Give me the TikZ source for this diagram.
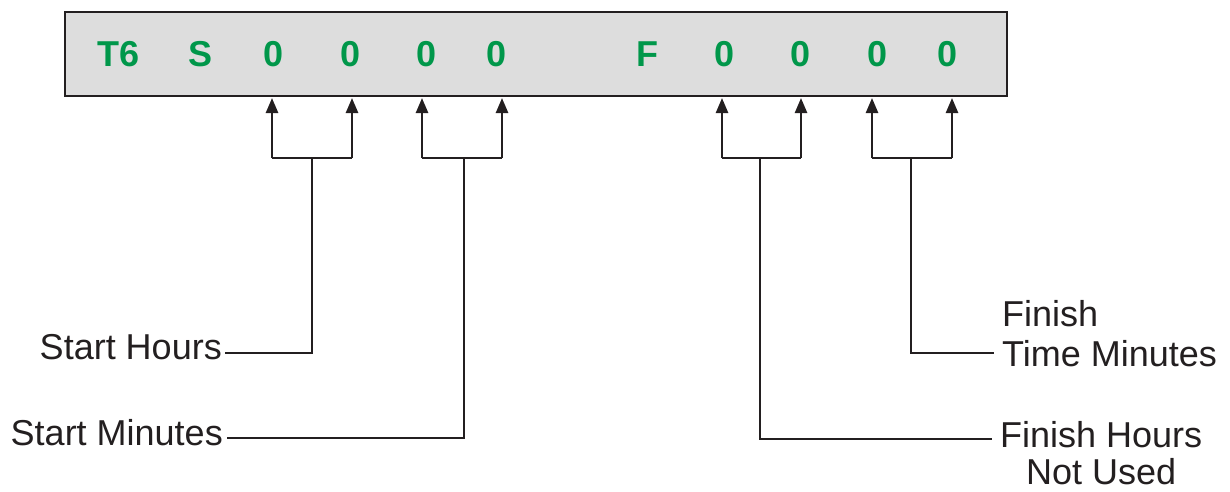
\documentclass[tikz,border=0pt]{standalone}
\usepackage{fontspec}
\setmainfont{Liberation Sans}
\usetikzlibrary{arrows.meta}
\definecolor{dgreen}{HTML}{00974A}
\definecolor{ink}{HTML}{231F20}
\definecolor{boxgray}{HTML}{DDDDDD}
\begin{document}
\begin{tikzpicture}[x=1pt,y=-1pt,
  code/.style={text=dgreen,font=\fontsize{36}{40}\selectfont\bfseries,anchor=center,inner sep=0pt},
  lbl/.style={text=ink,font=\fontsize{36}{40}\selectfont,inner sep=0pt},
  wire/.style={draw=ink,line width=2.5pt},
  arr/.style={draw=ink,line width=2.5pt,-{Triangle[length=15pt,width=12pt]}}]
\useasboundingbox (0,0) rectangle (1230,491);
\node[draw=ink,line width=2.2pt,fill=boxgray,minimum width=942pt,minimum height=84pt,inner sep=0pt] (box) at (536,54) {};
\node[code] (t6) at (119,54) {T6};
\node[code] (s) at (201,54) {S};
\node[code] (d1) at (274,54) {0};
\node[code] (d2) at (351,54) {0};
\node[code] (d3) at (427,54) {0};
\node[code] (d4) at (497,54) {0};
\node[code] (f) at (647,54) {F};
\node[code] (d5) at (724,54) {0};
\node[code] (d6) at (800,54) {0};
\node[code] (d7) at (877,54) {0};
\node[code] (d8) at (947,54) {0};
% arrow tips
\coordinate (a1) at (272,98); \coordinate (a2) at (352,98);
\coordinate (a3) at (422,98); \coordinate (a4) at (502,98);
\coordinate (a5) at (722,98); \coordinate (a6) at (801,98);
\coordinate (a7) at (872,98); \coordinate (a8) at (952,98);
% junctions
\coordinate (j1) at (312,158); \coordinate (j2) at (464,158);
\coordinate (j3) at (760,158); \coordinate (j4) at (911,158);
% labels
\node[lbl,anchor=base east] (sh) at (222,359) {Start Hours};
\node[lbl,anchor=base east] (sm) at (223,445) {Start Minutes};
\node[lbl,align=left,anchor=north west] (ftm) at (1002,300) {Finish\\Time Minutes};
\node[lbl,align=center,anchor=north west,font=\fontsize{36}{37}\selectfont] (fh) at (1000,421) {Finish Hours\\Not Used};
\coordinate (shc) at (225,353); \coordinate (smc) at (227,438);
\coordinate (ftmc) at (994,353); \coordinate (fhc) at (992,439);
% brackets
\draw[arr] (a1 |- j1) -- (a1);
\draw[arr] (a2 |- j1) -- (a2);
\draw[wire] (a1 |- j1) -- (a2 |- j1);
\draw[arr] (a3 |- j2) -- (a3);
\draw[arr] (a4 |- j2) -- (a4);
\draw[wire] (a3 |- j2) -- (a4 |- j2);
\draw[arr] (a5 |- j3) -- (a5);
\draw[arr] (a6 |- j3) -- (a6);
\draw[wire] (a5 |- j3) -- (a6 |- j3);
\draw[arr] (a7 |- j4) -- (a7);
\draw[arr] (a8 |- j4) -- (a8);
\draw[wire] (a7 |- j4) -- (a8 |- j4);
% leaders
\draw[wire] (j1) |- (shc);
\draw[wire] (j2) |- (smc);
\draw[wire] (j3) |- (fhc);
\draw[wire] (j4) |- (ftmc);
\end{tikzpicture}
\end{document}
